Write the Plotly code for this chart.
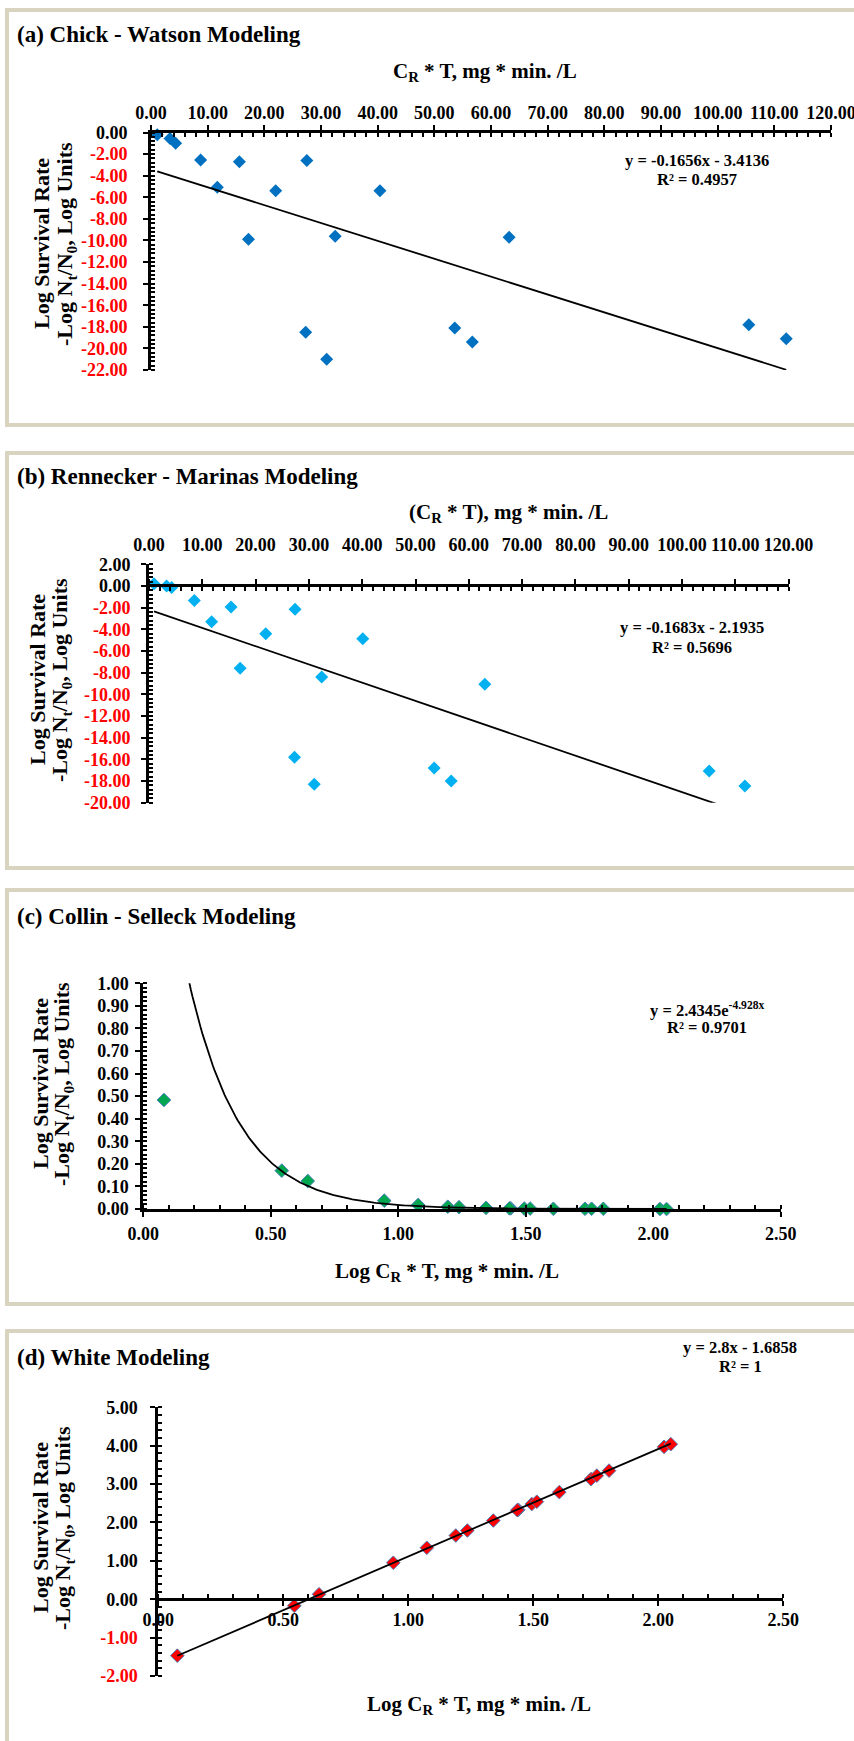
import numpy as np
import plotly.graph_objects as go

W, H = 854, 1741
FONT = "Liberation Serif"
RED = "#FF0000"

# ---------------- data ----------------
# (a) Chick - Watson : CR*T vs log survival
a_ct = [1.1, 3.35, 4.35, 8.76, 11.7, 15.6, 17.2, 22.0, 27.5, 27.3, 31.0, 32.5, 40.4, 53.6, 56.7, 63.2, 105.5, 112.1]
a_y = [-0.2, -0.55, -1.0, -2.55, -5.07, -2.7, -9.9, -5.4, -2.6, -18.5, -21.0, -9.6, -5.4, -18.1, -19.4, -9.7, -17.8, -19.1]
a_slope, a_icpt = -0.1656, -3.4136

# (b) Rennecker - Marinas
b_ct = [0.94, 3.3, 4.25, 8.5, 11.75, 15.4, 17.1, 21.9, 27.4, 27.3, 31.0, 32.4, 40.1, 53.5, 56.7, 63.0, 105.1, 111.8]
b_y = [0.2, 0.0, -0.15, -1.33, -3.3, -1.94, -7.6, -4.4, -2.15, -15.8, -18.3, -8.4, -4.86, -16.8, -18.0, -9.07, -17.07, -18.45]
b_slope, b_icpt = -0.1683, -2.1935

# (c) Collin - Selleck
c_x = [0.081, 0.543, 0.645, 0.945, 1.078, 1.194, 1.238, 1.344, 1.441, 1.436, 1.494, 1.517, 1.608, 1.732, 1.758, 1.804, 2.026, 2.052]
c_y = [0.483, 0.170, 0.124, 0.037, 0.018, 0.010, 0.008, 0.005, 0.003, 0.003, 0.002, 0.002, 0.001, 0.001, 0.001, 0.001, 0.0, 0.0]
c_coef, c_exp = 2.4345, -4.928

# (d) White
d_x = [0.076, 0.544, 0.643, 0.940, 1.074, 1.190, 1.236, 1.340, 1.440, 1.436, 1.494, 1.514, 1.604, 1.731, 1.754, 1.803, 2.023, 2.050]
d_y = [-1.47, -0.17, 0.13, 0.95, 1.34, 1.66, 1.79, 2.05, 2.33, 2.32, 2.48, 2.54, 2.79, 3.13, 3.22, 3.35, 3.97, 4.04]
d_slope, d_icpt = 2.8, -1.6858

a_xticks = [0, 10, 20, 30, 40, 50, 60, 70, 80, 90, 100, 110, 120]
a_yticks = [0, -2, -4, -6, -8, -10, -12, -14, -16, -18, -20, -22]
b_yticks = [2, 0, -2, -4, -6, -8, -10, -12, -14, -16, -18, -20]
c_xticks = [0, 0.5, 1.0, 1.5, 2.0, 2.5]
c_yticks = [0, 0.1, 0.2, 0.3, 0.4, 0.5, 0.6, 0.7, 0.8, 0.9, 1.0]
d_yticks = [5, 4, 3, 2, 1, 0, -1, -2]


def fx(px):
    return px / W


def fy(py):
    return 1 - py / H


def lab(v):
    s = f"{v:.2f}"
    if v < 0:
        return f'<span style="color:{RED}">{s}</span>'
    return s


tickfont = dict(family=FONT, size=18, color="black", weight="bold")


def axis(dom, rng, vals, minor_dt, **kw):
    d = dict(
        domain=dom, range=rng, showline=True, linewidth=3, linecolor="black",
        ticks="outside", ticklen=5, tickwidth=2, tickcolor="black",
        tickmode="array", tickvals=vals, ticktext=[lab(v) for v in vals],
        tickfont=tickfont, showgrid=False, zeroline=False, fixedrange=True,
        automargin=False, ticklabeloverflow="allow",
        minor=dict(tick0=0, dtick=minor_dt, ticks="inside", ticklen=4,
                   tickwidth=2, tickcolor="black", showgrid=False),
    )
    d.update(kw)
    return d


def cross(dom, rng, vals, over, **kw):
    # overlay axis that draws the inner half of the crossing major tick marks
    d = dict(domain=dom, range=rng, overlaying=over, showline=False, ticks="inside",
             ticklen=5, tickwidth=2, tickcolor="black", tickmode="array", tickvals=vals,
             showticklabels=False, showgrid=False, zeroline=False, fixedrange=True,
             automargin=False)
    d.update(kw)
    return d


fig = go.Figure()

# ---- (a)
fig.add_trace(go.Scatter(x=a_ct, y=a_y, mode="markers", cliponaxis=False,
                         marker=dict(symbol="diamond", size=10, color="#0070C0"),
                         xaxis="x", yaxis="y"))
ax_ends = [min(a_ct), max(a_ct)]
fig.add_trace(go.Scatter(x=ax_ends, y=[a_slope * v + a_icpt for v in ax_ends], mode="lines",
                         line=dict(color="black", width=1.8), xaxis="x", yaxis="y"))
# ---- (b)
fig.add_trace(go.Scatter(x=b_ct, y=b_y, mode="markers", cliponaxis=False,
                         marker=dict(symbol="diamond", size=10, color="#00B0F0"),
                         xaxis="x2", yaxis="y2"))
bx_ends = [min(b_ct), max(b_ct)]
fig.add_trace(go.Scatter(x=bx_ends, y=[b_slope * v + b_icpt for v in bx_ends], mode="lines",
                         line=dict(color="black", width=1.8), xaxis="x2", yaxis="y2"))
# ---- (c)
fig.add_trace(go.Scatter(x=c_x, y=c_y, mode="markers", cliponaxis=False,
                         marker=dict(symbol="diamond", size=10.5, color="#00A650",
                                     line=dict(color="#4F81BD", width=1)),
                         xaxis="x3", yaxis="y3"))
cx_fit = np.linspace(min(c_x), max(c_x), 300)
fig.add_trace(go.Scatter(x=cx_fit, y=c_coef * np.exp(c_exp * cx_fit), mode="lines",
                         line=dict(color="black", width=1.8), xaxis="x3", yaxis="y3"))
# ---- (d)
fig.add_trace(go.Scatter(x=d_x, y=d_y, mode="markers", cliponaxis=False,
                         marker=dict(symbol="diamond", size=10.5, color="#FF0000",
                                     line=dict(color="#4F81BD", width=1)),
                         xaxis="x4", yaxis="y4"))
dx_ends = [min(d_x), max(d_x)]
fig.add_trace(go.Scatter(x=dx_ends, y=[d_slope * v + d_icpt for v in dx_ends], mode="lines",
                         line=dict(color="black", width=1.8), xaxis="x4", yaxis="y4"))

layout = dict(
    width=W, height=H, margin=dict(l=0, r=0, t=0, b=0, pad=0, autoexpand=False),
    showlegend=False,
    paper_bgcolor="white", plot_bgcolor="rgba(0,0,0,0)",
    font=dict(family=FONT, color="black"),
)

A_X, A_Y = [fx(151), fx(831)], [fy(370), fy(132.5)]
B_X, B_Y = [fx(149), fx(788.6)], [fy(802.7), fy(564.3)]
C_X, C_Y = [fx(143.3), fx(780.8)], [fy(1209), fy(983.3)]
D_X, D_Y = [fx(158.3), fx(783.3)], [fy(1676), fy(1407.3)]

layout["xaxis"] = axis(A_X, [0, 120], a_xticks, 2, side="top", anchor="y",
                       ticklabelstandoff=-2)
layout["yaxis"] = axis(A_Y, [-22, 0], a_yticks, 0.4, anchor="x", ticklabelstandoff=12)
layout["xaxis2"] = axis(B_X, [0, 120], a_xticks, 2, side="top", anchor="free",
                        position=fy(585), ticklabelstandoff=21)
layout["yaxis2"] = axis(B_Y, [-20, 2], b_yticks, 0.4, anchor="x2", ticklabelstandoff=7)
layout["xaxis3"] = axis(C_X, [0, 2.5], c_xticks, 0.1, anchor="y3", ticklabelstandoff=1)
layout["yaxis3"] = axis(C_Y, [0, 1], c_yticks, 0.02, anchor="x3", ticklabelstandoff=3)
layout["xaxis4"] = axis(D_X, [0, 2.5], c_xticks, 0.1, anchor="free",
                        position=fy(1599.3), ticklabelstandoff=-2)
layout["yaxis4"] = axis(D_Y, [-2, 5], d_yticks, 0.2, anchor="x4", ticklabelstandoff=9)

# crossing halves of the major ticks
layout["xaxis5"] = cross(A_X, [0, 120], a_xticks, "x", side="top", anchor="y")
layout["yaxis5"] = cross(A_Y, [-22, 0], a_yticks, "y", anchor="x")
layout["xaxis6"] = cross(B_X, [0, 120], a_xticks, "x2", side="top", anchor="free",
                         position=fy(585))
layout["yaxis6"] = cross(B_Y, [-20, 2], b_yticks, "y2", anchor="x2")
layout["xaxis7"] = cross(C_X, [0, 2.5], c_xticks, "x3", anchor="y3")
layout["yaxis7"] = cross(C_Y, [0, 1], c_yticks, "y3", anchor="x3")
layout["xaxis8"] = cross(D_X, [0, 2.5], c_xticks, "x4", anchor="free", position=fy(1599.3))
layout["yaxis8"] = cross(D_Y, [-2, 5], d_yticks, "y4", anchor="x4")

# frames
frame_col = "#d9d4bf"
shapes = []
for (y0, y1) in [(10, 425), (453, 868), (890, 1304), (1331, 1770)]:
    shapes.append(dict(type="rect", xref="paper", yref="paper", x0=fx(7), x1=fx(880),
                       y0=fy(y1), y1=fy(y0), line=dict(color=frame_col, width=4),
                       fillcolor="rgba(0,0,0,0)", layer="below"))
layout["shapes"] = shapes

ann = []


def text(px, py, s, size, xanchor="center", angle=0):
    ann.append(dict(x=fx(px), y=fy(py), xref="paper", yref="paper", text=s,
                    showarrow=False, xanchor=xanchor, yanchor="middle", textangle=angle,
                    font=dict(family=FONT, size=size, color="black", weight="bold")))


# titles
text(15, 35, "(a) Chick - Watson Modeling", 23, "left")
text(15, 477, "(b) Rennecker - Marinas Modeling", 23, "left")
text(15, 917, "(c) Collin - Selleck Modeling", 23, "left")
text(15, 1357, "(d) White Modeling", 23, "left")
# x-axis titles
text(485, 72, "C<sub>R</sub> * T, mg * min. /L", 21)
text(508, 513, "(C<sub>R</sub> * T), mg * min. /L", 21)
text(447, 1272, "Log C<sub>R</sub> * T, mg * min. /L", 21)
text(479, 1705, "Log C<sub>R</sub> * T, mg * min. /L", 21)
# y-axis titles
for (x1, x2, yc) in [(42, 66, 244), (37, 61, 680), (40, 63, 1084), (40, 64, 1528)]:
    text(x1, yc, "Log Survival Rate", 22, angle=-90)
    text(x2, yc, "-Log N<sub>t</sub>/N<sub>0</sub>, Log Units", 22, angle=-90)
# trendline equations
text(697, 160, "y = -0.1656x - 3.4136", 16.5)
text(697, 179, "R² = 0.4957", 16.5)
text(692, 628, "y = -0.1683x - 2.1935", 16.5)
text(692, 647, "R² = 0.5696", 16.5)
text(707, 1009, "y = 2.4345e<sup>-4.928x</sup>", 16.5)
text(707, 1027, "R² = 0.9701", 16.5)
text(740, 1347, "y = 2.8x - 1.6858", 16.5)
text(740, 1366, "R² = 1", 16.5)
layout["annotations"] = ann

fig.update_layout(**layout)
fig.write_html("out.html")
